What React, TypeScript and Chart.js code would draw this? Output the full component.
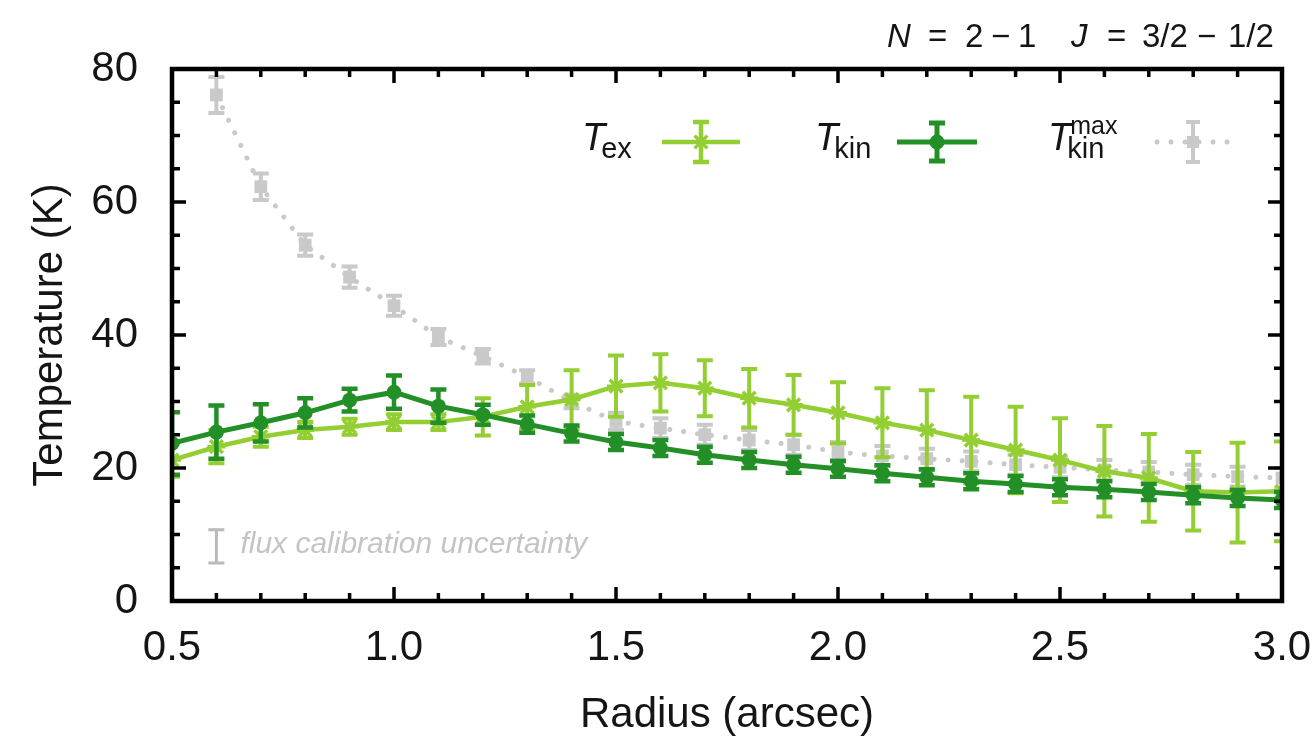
import React, { useEffect, useRef } from "react";
import { Chart, registerables } from "chart.js";

Chart.register(...registerables);

const FONT = '"Liberation Sans", Arial, Helvetica, sans-serif';

// ---- data ----
const radius = [0.5, 0.6, 0.7, 0.8, 0.9, 1.0, 1.1, 1.2, 1.3, 1.4, 1.5, 1.6, 1.7, 1.8, 1.9, 2.0, 2.1, 2.2, 2.3, 2.4, 2.5, 2.6, 2.7, 2.8, 2.9, 3.0];

const texValues = [21.2, 23.2, 24.7, 25.7, 26.2, 26.9, 26.9, 27.7, 29.2, 30.3, 32.3, 32.8, 32.0, 30.5, 29.5, 28.3, 26.8, 25.7, 24.2, 22.7, 21.2, 19.5, 18.5, 16.5, 16.3, 16.5];
const texErrors = [2.5, 2.5, 1.5, 1.2, 1.2, 1.2, 1.2, 2.8, 3.3, 4.4, 4.6, 4.3, 4.2, 4.4, 4.5, 4.6, 5.2, 6.0, 6.5, 6.5, 6.3, 6.8, 6.6, 5.9, 7.5, 7.5];

const tkinValues = [23.7, 25.4, 26.8, 28.3, 30.2, 31.4, 29.3, 28.0, 26.6, 25.2, 23.9, 23.0, 22.0, 21.2, 20.5, 19.9, 19.2, 18.6, 18.0, 17.6, 17.1, 16.8, 16.4, 15.9, 15.5, 15.2];
const tkinErrors = [4.7, 4.0, 2.8, 2.2, 1.7, 2.5, 2.5, 1.5, 1.3, 1.2, 1.2, 1.2, 1.2, 1.2, 1.2, 1.2, 1.2, 1.2, 1.2, 1.2, 1.2, 1.2, 1.2, 1.2, 1.2, 1.2];

const tmaxValues: (number | null)[] = [null, 76.1, 62.3, 53.5, 48.7, 44.4, 39.7, 36.8, 33.7, 30.0, 27.0, 26.0, 25.0, 24.2, 23.5, 22.4, 21.8, 21.4, 21.0, 20.5, 20.1, 19.7, 19.4, 19.0, 18.7, 18.5];
const tmaxErrors = [0, 2.7, 2.0, 1.6, 1.6, 1.5, 1.2, 1.1, 1.0, 1.0, 1.3, 1.5, 1.5, 1.5, 1.5, 1.5, 1.5, 1.5, 1.5, 1.5, 1.5, 1.5, 1.5, 1.5, 1.5, 1.5];

const xTickValues = [0.5, 1.0, 1.5, 2.0, 2.5, 3.0];
const yTickValues = [0, 20, 40, 60, 80];
const xMinorTicks = [0.6, 0.7, 0.8, 0.9, 1.1, 1.2, 1.3, 1.4, 1.6, 1.7, 1.8, 1.9, 2.1, 2.2, 2.3, 2.4, 2.6, 2.7, 2.8, 2.9];
const yMinorTicks = [5, 10, 15, 25, 30, 35, 45, 50, 55, 65, 70, 75];

const fluxCalX = [0.6];
const fluxCalY = [8.2];
const fluxCalErr = [2.5];

const COL_TEX = "#93cf33";
const COL_TKIN = "#229026";
const COL_TMAX = "#c9c9c9";
const COL_TEXT = "#151515";

const errorBarPlugin = {
  id: "errorBars",
  beforeDatasetDraw(chart: any, args: any) {
    const ds: any = chart.data.datasets[args.index];
    const errs: number[] = ds.errorValues;
    if (!errs) return;
    const { ctx, chartArea, scales } = chart;
    const xs = scales.x;
    const ys = scales.y;
    ctx.save();
    ctx.beginPath();
    ctx.rect(chartArea.left, chartArea.top, chartArea.right - chartArea.left, chartArea.bottom - chartArea.top);
    ctx.clip();
    ctx.strokeStyle = ds.borderColor;
    ctx.lineWidth = ds.errorLineWidth;
    ctx.setLineDash([]);
    ctx.lineCap = "butt";
    ds.data.forEach((p: any, i: number) => {
      if (p.y == null) return;
      const px = xs.getPixelForValue(p.x);
      const top = ys.getPixelForValue(p.y + errs[i]);
      const bot = ys.getPixelForValue(p.y - errs[i]);
      const hw = ds.capHalfWidth;
      ctx.beginPath();
      ctx.moveTo(px, top);
      ctx.lineTo(px, bot);
      ctx.moveTo(px - hw, top);
      ctx.lineTo(px + hw, top);
      ctx.moveTo(px - hw, bot);
      ctx.lineTo(px + hw, bot);
      ctx.stroke();
    });
    ctx.restore();
  },
};

function drawSymbol(ctx: CanvasRenderingContext2D, cx: number, cy: number, kind: string) {
  ctx.save();
  if (kind === "tex") {
    ctx.strokeStyle = COL_TEX;
    ctx.lineWidth = 4.5;
    ctx.beginPath();
    ctx.moveTo(cx - 39, cy); ctx.lineTo(cx + 39, cy);
    ctx.moveTo(cx, cy - 20); ctx.lineTo(cx, cy + 20);
    ctx.moveTo(cx - 8, cy - 20); ctx.lineTo(cx + 8, cy - 20);
    ctx.moveTo(cx - 8, cy + 20); ctx.lineTo(cx + 8, cy + 20);
    ctx.stroke();
    ctx.lineWidth = 3.5;
    const r = 9;
    ctx.beginPath();
    ctx.moveTo(cx - r, cy); ctx.lineTo(cx + r, cy);
    ctx.moveTo(cx, cy - r); ctx.lineTo(cx, cy + r);
    const d = r * Math.SQRT1_2;
    ctx.moveTo(cx - d, cy - d); ctx.lineTo(cx + d, cy + d);
    ctx.moveTo(cx - d, cy + d); ctx.lineTo(cx + d, cy - d);
    ctx.stroke();
  } else if (kind === "tkin") {
    ctx.strokeStyle = COL_TKIN;
    ctx.fillStyle = COL_TKIN;
    ctx.lineWidth = 5;
    ctx.beginPath();
    ctx.moveTo(cx - 40, cy); ctx.lineTo(cx + 40, cy);
    ctx.moveTo(cx, cy - 19); ctx.lineTo(cx, cy + 19);
    ctx.moveTo(cx - 8, cy - 19); ctx.lineTo(cx + 8, cy - 19);
    ctx.moveTo(cx - 8, cy + 19); ctx.lineTo(cx + 8, cy + 19);
    ctx.stroke();
    ctx.beginPath();
    ctx.arc(cx, cy, 7.5, 0, Math.PI * 2);
    ctx.fill();
  } else {
    ctx.strokeStyle = COL_TMAX;
    ctx.fillStyle = COL_TMAX;
    ctx.lineWidth = 5;
    ctx.lineCap = "round";
    ctx.setLineDash([0.01, 14]);
    ctx.beginPath();
    ctx.moveTo(cx - 36, cy); ctx.lineTo(cx + 36, cy);
    ctx.stroke();
    ctx.setLineDash([]);
    ctx.lineCap = "butt";
    ctx.lineWidth = 4;
    ctx.beginPath();
    ctx.moveTo(cx, cy - 20); ctx.lineTo(cx, cy + 20);
    ctx.moveTo(cx - 7, cy - 20); ctx.lineTo(cx + 7, cy - 20);
    ctx.moveTo(cx - 7, cy + 20); ctx.lineTo(cx + 7, cy + 20);
    ctx.stroke();
    ctx.fillRect(cx - 6, cy - 6, 12, 12);
  }
  ctx.restore();
}

// title pieces: text, italic, left x
const titlePieces: [string, boolean, number][] = [
  ["N", true, 887],
  ["=", false, 928],
  ["2", false, 965],
  ["\u2212", false, 991],
  ["1", false, 1018],
  ["J", true, 1071],
  ["=", false, 1107],
  ["3/2", false, 1142],
  ["\u2212", false, 1197],
  ["1/2", false, 1228],
];

const decorPlugin = {
  id: "decor",
  afterDraw(chart: any) {
    const { ctx, chartArea, scales } = chart;
    const xs = scales.x;
    const ys = scales.y;
    const { left, right, top, bottom } = chartArea;
    ctx.save();
    // ticks (inward, on all four sides)
    ctx.strokeStyle = "#000";
    ctx.lineWidth = 3.5;
    ctx.lineCap = "butt";
    ctx.beginPath();
    const xTick = (v: number, len: number) => {
      const p = xs.getPixelForValue(v);
      ctx.moveTo(p, bottom); ctx.lineTo(p, bottom - len);
      ctx.moveTo(p, top); ctx.lineTo(p, top + len);
    };
    const yTick = (v: number, len: number) => {
      const p = ys.getPixelForValue(v);
      ctx.moveTo(left, p); ctx.lineTo(left + len, p);
      ctx.moveTo(right, p); ctx.lineTo(right - len, p);
    };
    xTickValues.forEach((v) => xTick(v, 14));
    xMinorTicks.forEach((v) => xTick(v, 8));
    yTickValues.forEach((v) => yTick(v, 14));
    yMinorTicks.forEach((v) => yTick(v, 8));
    ctx.stroke();
    // frame
    ctx.lineWidth = 4.5;
    ctx.strokeRect(left, top, right - left, bottom - top);

    // axis titles
    ctx.fillStyle = COL_TEXT;
    ctx.font = `42px ${FONT}`;
    ctx.textAlign = "center";
    ctx.textBaseline = "alphabetic";
    ctx.fillText("Radius (arcsec)", (left + right) / 2, 727);
    ctx.save();
    ctx.translate(62, (top + bottom) / 2);
    ctx.rotate(-Math.PI / 2);
    ctx.fillText("Temperature (K)", 0, 0);
    ctx.restore();

    // title top right
    ctx.textAlign = "left";
    titlePieces.forEach(([s, it, x]) => {
      ctx.font = `${it ? "italic " : ""}33px ${FONT}`;
      ctx.fillText(s, x, 47);
    });

    // legend
    const drawLabel = (x: number, sub: string, sup?: string) => {
      ctx.font = `italic 38px ${FONT}`;
      ctx.fillStyle = COL_TEXT;
      ctx.fillText("T", x, 150);
      const w = ctx.measureText("T").width;
      ctx.font = `29px ${FONT}`;
      ctx.fillText(sub, x + w - 4, 158);
      if (sup) {
        ctx.font = `25px ${FONT}`;
        ctx.fillText(sup, x + w - 1, 134);
      }
    };
    drawLabel(582, "ex");
    drawSymbol(ctx, 701, 142, "tex");
    drawLabel(815, "kin");
    drawSymbol(ctx, 937, 142, "tkin");
    drawLabel(1048, "kin", "max");
    drawSymbol(ctx, 1193, 142, "tmax");

    // flux calibration uncertainty annotation
    ctx.strokeStyle = "#b9b9b9";
    ctx.lineWidth = 3;
    fluxCalX.forEach((fx, i) => {
      const px = xs.getPixelForValue(fx);
      const t = ys.getPixelForValue(fluxCalY[i] + fluxCalErr[i]);
      const b = ys.getPixelForValue(fluxCalY[i] - fluxCalErr[i]);
      ctx.beginPath();
      ctx.moveTo(px, t); ctx.lineTo(px, b);
      ctx.moveTo(px - 8, t); ctx.lineTo(px + 8, t);
      ctx.moveTo(px - 8, b); ctx.lineTo(px + 8, b);
      ctx.stroke();
      ctx.fillStyle = "#c4c4c4";
      ctx.font = `italic 30px ${FONT}`;
      ctx.textAlign = "left";
      ctx.fillText("flux calibration uncertainty", px + 24, 553);
    });
    ctx.restore();
  },
};

export default function App() {
  const canvasRef = useRef<HTMLCanvasElement | null>(null);

  useEffect(() => {
    document.body.style.margin = "0";
    const canvas = canvasRef.current;
    if (!canvas) return;
    const toPts = (vals: (number | null)[]) => radius.map((x, i) => ({ x, y: vals[i] }));
    const chart = new Chart(canvas, {
      type: "line",
      data: {
        datasets: [
          {
            label: "Tkin",
            data: toPts(tkinValues),
            borderColor: COL_TKIN,
            backgroundColor: COL_TKIN,
            borderWidth: 5,
            pointStyle: "circle",
            pointRadius: 7.5,
            pointBorderWidth: 0,
            pointBackgroundColor: COL_TKIN,
            order: 1,
            clip: 0,
            errorValues: tkinErrors,
            errorLineWidth: 4.5,
            capHalfWidth: 8,
          } as any,
          {
            label: "Tex",
            data: toPts(texValues),
            borderColor: COL_TEX,
            backgroundColor: COL_TEX,
            borderWidth: 4.5,
            pointStyle: "star",
            pointRadius: 9,
            pointBorderWidth: 3.5,
            pointBorderColor: COL_TEX,
            order: 2,
            clip: 0,
            errorValues: texErrors,
            errorLineWidth: 4,
            capHalfWidth: 8,
          } as any,
          {
            label: "Tmax",
            data: toPts(tmaxValues),
            borderColor: COL_TMAX,
            backgroundColor: COL_TMAX,
            borderWidth: 5,
            borderDash: [0.01, 14],
            borderCapStyle: "round",
            pointStyle: "rect",
            pointRadius: 9,
            pointBorderWidth: 0,
            pointBackgroundColor: COL_TMAX,
            order: 3,
            clip: 0,
            errorValues: tmaxErrors,
            errorLineWidth: 4,
            capHalfWidth: 8,
          } as any,
        ],
      },
      options: {
        animation: false,
        responsive: false,
        devicePixelRatio: 1,
        layout: { padding: { top: 69, right: 31, left: 0, bottom: 0 } },
        plugins: { legend: { display: false }, tooltip: { enabled: false } },
        elements: { line: { tension: 0 } },
        scales: {
          x: {
            type: "linear",
            min: 0.5,
            max: 3.0,
            grid: { display: false, drawTicks: false },
            border: { display: false },
            afterFit: (s: any) => {
              s.height = 135;
              s.paddingLeft = 0;
              s.paddingRight = 0;
            },
            afterBuildTicks: (s: any) => { s.ticks = xTickValues.map((v) => ({ value: v })); },
            ticks: {
              autoSkip: false,
              maxRotation: 0,
              padding: 22,
              color: COL_TEXT,
              font: { family: FONT, size: 42 },
              callback: (v: any) => Number(v).toFixed(1),
            },
          },
          y: {
            type: "linear",
            min: 0,
            max: 80,
            grid: { display: false, drawTicks: false },
            border: { display: false },
            afterFit: (s: any) => {
              s.width = 172;
              s.paddingTop = 0;
              s.paddingBottom = 0;
            },
            afterBuildTicks: (s: any) => { s.ticks = yTickValues.map((v) => ({ value: v })); },
            ticks: {
              autoSkip: false,
              padding: 34,
              color: COL_TEXT,
              font: { family: FONT, size: 42 },
              callback: (v: any) => String(v),
            },
          },
        },
      },
      plugins: [errorBarPlugin, decorPlugin],
    } as any);
    return () => chart.destroy();
  }, []);

  return (
    <div style={{ width: 1313, height: 736, background: "#fff" }}>
      <canvas ref={canvasRef} width={1313} height={736} style={{ display: "block" }} />
    </div>
  );
}
